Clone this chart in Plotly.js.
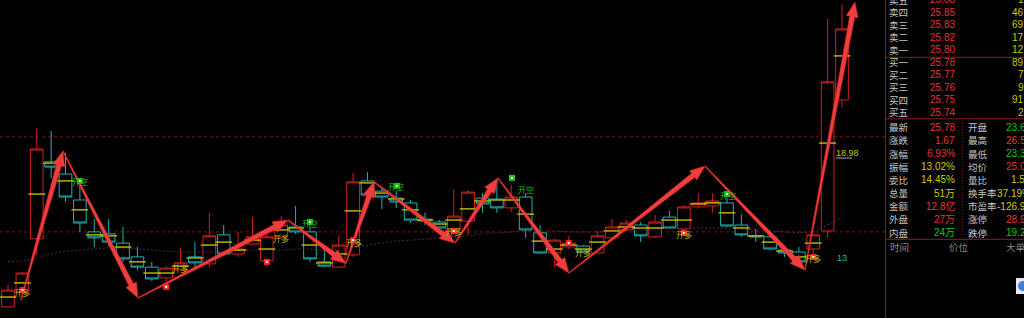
<!DOCTYPE html>
<html><head><meta charset="utf-8">
<script src="https://cdn.plot.ly/plotly-3.0.1.min.js"></script>
<style>html,body{margin:0;padding:0;background:#000;overflow:hidden}#chart{width:1024px;height:318px}</style>
</head><body><div id="chart"></div>
<script>
// ---------- data ----------
const days = [0,1,2,3,4,5,6,7,8,9,10,11,12,13,14,15,16,17,18,19,20,21,22,23,24,25,26,27,28,29,30,31,32,33,34,35,36,37,38,39,40,41,42,43,44,45,46,47,48,49,50,51,52,53,54,55,56,57,58];
const opens  = [17.33,17.78,19.40,21.74,21.37,20.58,19.61,19.55,19.27,18.85,18.54,18.21,18.45,18.85,18.64,19.52,18.94,19.24,18.73,19.46,19.76,19.61,18.70,18.54,18.91,21.16,20.85,20.64,20.49,20.00,19.91,19.67,19.94,20.64,20.61,20.34,20.67,19.58,18.97,19.15,19.18,18.97,19.43,19.67,19.82,19.46,20.06,19.70,20.37,20.40,20.49,19.82,19.49,19.46,19.06,19.00,19.09,19.64,23.62];
const closes = [17.84,18.36,22.13,21.58,20.67,19.88,19.43,19.30,18.79,18.54,18.18,18.51,18.67,18.67,19.49,18.94,19.09,19.46,19.46,19.82,19.61,18.79,18.57,19.21,21.13,20.73,20.67,20.52,19.97,19.94,19.73,20.09,20.82,20.46,20.34,20.67,19.67,18.97,19.36,19.27,19.00,19.49,19.76,19.88,19.49,19.91,19.73,20.37,20.49,20.55,19.79,19.52,19.46,19.09,18.97,18.70,19.52,24.17,25.78];
const highs  = [18.00,18.39,22.77,22.68,22.01,21.13,20.00,20.00,19.76,19.15,18.70,18.57,19.12,19.30,20.19,19.82,19.61,20.06,19.55,20.09,20.40,19.82,19.06,19.49,21.40,21.43,20.98,20.85,20.58,20.19,19.97,20.91,20.88,20.79,21.19,21.04,20.79,19.82,19.40,19.49,19.21,19.64,20.00,19.97,19.91,20.12,20.25,20.43,20.79,20.79,20.64,20.15,19.70,19.52,19.21,19.15,19.55,26.08,26.52];
const lows   = [17.30,17.69,18.91,21.25,20.52,19.61,19.15,19.18,18.70,18.45,18.12,18.00,18.42,18.45,18.51,18.88,18.85,19.21,18.54,19.43,19.55,18.70,18.54,18.51,18.85,20.58,20.31,20.34,19.88,19.82,19.70,19.52,19.52,20.19,20.19,20.22,19.43,18.94,18.54,19.09,18.97,18.94,19.40,19.64,19.30,19.43,19.70,19.67,20.31,20.19,19.76,19.46,19.30,19.06,18.85,18.67,18.76,19.43,23.39];
const avgPrice = [17.63,18.06,20.76,21.70,21.16,20.28,19.52,19.49,19.15,18.70,18.36,18.36,18.57,18.82,19.21,19.30,19.06,19.36,19.09,19.67,19.73,19.21,18.67,18.94,20.25,21.10,20.79,20.61,20.28,19.97,19.85,19.97,20.31,20.55,20.58,20.58,20.15,19.33,19.09,19.21,19.09,19.30,19.64,19.76,19.73,19.73,19.97,19.97,20.46,20.49,20.19,19.73,19.49,19.30,19.03,18.85,19.27,22.31,24.96];
const maLine = [18.70,18.73,18.82,18.94,19.03,19.06,19.09,19.12,19.12,19.09,19.06,19.03,19.00,19.00,19.00,19.03,19.03,19.06,19.06,19.06,19.09,19.09,19.06,19.06,19.15,19.21,19.27,19.33,19.36,19.40,19.43,19.46,19.49,19.55,19.58,19.61,19.64,19.64,19.64,19.61,19.61,19.61,19.64,19.67,19.67,19.67,19.70,19.73,19.73,19.73,19.73,19.70,19.67,19.64,19.61,19.58,19.61,19.82,20.06];
const levels = [22.50, 19.61];

// zigzag turning points (bar position, price)
const zigX = [0.90, 3.82, 9.04, 19.47, 23.50, 25.45, 31.08, 34.07, 39.01, 48.47, 55.42, 58.90];
const zigY = [17.54, 22.07, 17.60, 19.97, 18.65, 21.13, 19.27, 21.25, 18.36, 21.61, 18.45, 26.60];

// signals
const longDotX = [1, 11, 18, 24, 31, 39, 47, 56];
const longDotY = [17.84, 17.94, 18.70, 19.36, 19.64, 19.27, 19.58, 18.85];
const longLblX = [0.94, 11.96, 18.98, 24.03, 31.0, 40.0, 47.0, 56.0];
const longLblY = [17.78, 18.51, 19.40, 19.30, 19.61, 18.97, 19.52, 18.79];
const shortDotX = [5, 21, 27.05, 35.05, 50];
const shortDotY = [21.16, 19.91, 21.01, 21.25, 20.76];
const shortLblX = [5, 21, 27, 36, 50.07];
const shortLblY = [21.13, 19.88, 20.98, 20.91, 20.73];
const longText = '开多', shortText = '开空';
const priceTag = '18.98', countTag = '13';

// quote panel
const askLabels = ['卖五','卖四','卖三','卖二','卖一'];
const askPrices = ['25.88','25.85','25.83','25.82','25.80'];
const askVols   = ['1','46','69','17','12'];
const bidLabels = ['买一','买二','买三','买四','买五'];
const bidPrices = ['25.78','25.77','25.76','25.75','25.74'];
const bidVols   = ['89','7','9','91','2'];
const statLabelsL = ['最新','涨跌','涨幅','振幅','委比','总量','金额','外盘','内盘'];
const statValsL   = ['25.78','1.67','6.93%','13.02%','14.45%','51万','12.8亿','27万','24万'];
const statColsL   = ['r','r','r','y','y','y','r','r','g'];
const statLabelsR = ['开盘','最高','最低','均价','量比','换手率','市盈率','涨停','跌停'];
const statValsR   = ['23.62','26.52','23.39','25.06','1.54','37.19%','-126.97','28.93','19.29'];
const statColsR   = ['g','r','g','r','y','y','y','r','g'];
const tickHeaders = ['时间','价位','大单'];

// ---------- geometry ----------
const W = 1024, H = 318, PW = 885;
const xr = [-0.556, 60.99], yr = [16.993, 26.659];
function toPx(i, p){ return [(i - xr[0])/(xr[1]-xr[0])*PW, H*(1-(p-yr[0])/(yr[1]-yr[0]))]; }
function toData(px, py){ return [xr[0] + px/PW*(xr[1]-xr[0]), yr[0] + (1-py/H)*(yr[1]-yr[0])]; }

const RED='#d42020', CYAN='#1cb4b4', YEL='#b4b400';
const traces = [];

traces.push({type:'scatter', mode:'lines', x:days, y:maLine, line:{color:'#5a1f5a', width:1, dash:'2px,2px'}, hoverinfo:'skip'});

traces.push({type:'candlestick', x:days, open:opens, high:highs, low:lows, close:closes,
  increasing:{line:{color:RED, width:1}, fillcolor:'#000'},
  decreasing:{line:{color:CYAN, width:1}, fillcolor:'#000'},
  whiskerwidth:0, hoverinfo:'skip'});

traces.push({type:'scatter', mode:'markers', x:days, y:avgPrice,
  marker:{symbol:'line-ew', size:12, line:{color:YEL, width:1.5}}, hoverinfo:'skip'});

// arrows
for (let k = 0; k < zigX.length-1; k++){
  const S = toPx(zigX[k], zigY[k]), T = toPx(zigX[k+1], zigY[k+1]);
  const dx = T[0]-S[0], dy = T[1]-S[1], L = Math.hypot(dx,dy);
  const ux = dx/L, uy = dy/L, nx = -uy, ny = ux;
  const hl = 15, hw = 6, bw = 2.6, sw = 0.4;
  const Bx = T[0]-ux*hl, By = T[1]-uy*hl;
  const pts = [
    [S[0]+nx*sw, S[1]+ny*sw],[Bx+nx*bw, By+ny*bw],[Bx+nx*hw, By+ny*hw],[T[0],T[1]],
    [Bx-nx*hw, By-ny*hw],[Bx-nx*bw, By-ny*bw],[S[0]-nx*sw, S[1]-ny*sw],[S[0]+nx*sw, S[1]+ny*sw]];
  const d = pts.map(p => toData(p[0], p[1]));
  traces.push({type:'scatter', mode:'lines', x:d.map(v=>v[0]), y:d.map(v=>v[1]), fill:'toself',
    fillcolor:'rgb(240,62,62)', line:{color:'rgb(205,35,35)', width:0.6}, hoverinfo:'skip'});
}

// signal dots
traces.push({type:'scatter', mode:'markers', x:longDotX, y:longDotY, marker:{symbol:'square', size:6, color:'#ff2828'}, hoverinfo:'skip'});
traces.push({type:'scatter', mode:'markers', x:longDotX, y:longDotY, marker:{symbol:'square', size:2, color:'#ffffff'}, hoverinfo:'skip'});
traces.push({type:'scatter', mode:'markers', x:shortDotX, y:shortDotY, marker:{symbol:'square', size:6, color:'#20c020'}, hoverinfo:'skip'});
traces.push({type:'scatter', mode:'markers', x:shortDotX, y:shortDotY, marker:{symbol:'square', size:2, color:'#ffffff'}, hoverinfo:'skip'});

const ann = [];
const CJK = 'Noto Sans CJK SC';
longLblX.forEach((x,i)=>ann.push({xref:'x', yref:'y', x:x, y:longLblY[i], text:longText, showarrow:false,
  font:{family:CJK, size:8, color:'#c8b400'}, xanchor:'center', yanchor:'middle'}));
shortLblX.forEach((x,i)=>ann.push({xref:'x', yref:'y', x:x, y:shortLblY[i], text:shortText, showarrow:false,
  font:{family:CJK, size:8, color:'#10c010'}, xanchor:'center', yanchor:'middle'}));
ann.push({xref:'x', yref:'y', x:57.45, y:22.01, text:priceTag, showarrow:false, xanchor:'left', yanchor:'middle',
  font:{family:'Liberation Sans', size:9, color:'#c8c800'}});
ann.push({xref:'x', yref:'y', x:57.5, y:18.82, text:countTag, showarrow:false, xanchor:'left', yanchor:'middle',
  font:{family:'Liberation Sans', size:9, color:CYAN}});

// panel text
const NUMF = 'Liberation Sans, Noto Sans CJK SC';
const colMap = {r:'#e83434', g:'#00cc00', y:'#cccc00'};
function pa(px, py, text, color, anchor, size, fam){
  ann.push({xref:'paper', yref:'paper', x:px/W, y:1-py/H, text:text, showarrow:false, xanchor:anchor, yanchor:'middle',
    font:{family:fam||NUMF, size:size||10, color:color}});
}
const LBL = '#c4c4c4';
askLabels.forEach((t,i)=>{ const y = -0.2 + 12.5*i;
  pa(887, y, t, LBL, 'left', 9.5, CJK); pa(956.5, y, askPrices[i], '#e03434', 'right'); pa(1026, y, askVols[i], '#c8c800', 'right'); });
bidLabels.forEach((t,i)=>{ const y = 62.3 + 12.5*i;
  pa(887, y, t, LBL, 'left', 9.5, CJK); pa(956.5, y, bidPrices[i], '#e03434', 'right'); pa(1026, y, bidVols[i], '#c8c800', 'right'); });
statLabelsL.forEach((t,i)=>{ const y = 127.3 + 13.15*i;
  pa(887, y, t, LBL, 'left', 9.5, CJK); pa(956.5, y, statValsL[i], colMap[statColsL[i]], 'right');
  pa(966, y, statLabelsR[i], LBL, 'left', 9.5, CJK); pa(1033, y, statValsR[i], colMap[statColsR[i]], 'right'); });
pa(888, 247, tickHeaders[0], '#8a8a8a', 'left', 9.5, CJK);
pa(947, 247, tickHeaders[1], '#8a8a8a', 'left', 9.5, CJK);
pa(1004, 247, tickHeaders[2], '#8a8a8a', 'left', 9.5, CJK);

const DR = '#8c1c1c';
const shapes = [];
levels.forEach(v=>shapes.push({type:'line', xref:'paper', yref:'y', x0:0, x1:PW/W, y0:v, y1:v, line:{color:'#8a0f0f', width:1, dash:'3px,3px'}, layer:'below'}));
shapes.push({type:'line', xref:'paper', yref:'paper', x0:885.5/W, x1:885.5/W, y0:0, y1:1, line:{color:DR, width:1}});
[57.3, 118.8, 239.3].forEach(py=>shapes.push({type:'line', xref:'paper', yref:'paper', x0:885/W, x1:1, y0:1-py/H, y1:1-py/H, line:{color:DR, width:1}}));
shapes.push({type:'line', xref:'paper', yref:'paper', x0:962.5/W, x1:962.5/W, y0:1-120/H, y1:1-239/H, line:{color:'#7a1414', width:1, dash:'1px,2px'}});
shapes.push({type:'line', xref:'paper', yref:'paper', x0:836/W, x1:852/W, y0:1-158/H, y1:1-158/H, line:{color:'#a8a8a8', width:1}});
shapes.push({type:'rect', xref:'paper', yref:'paper', x0:1016/W, x1:1030/W, y0:1-294/H, y1:1-278/H, fillcolor:'#e6e8f0', line:{width:0}});
shapes.push({type:'circle', xref:'paper', yref:'paper', x0:1018/W, x1:1028/W, y0:1-291/H, y1:1-281/H, fillcolor:'#3d7ee0', line:{width:0}});

const layout = {
  width:W, height:H, margin:{l:0,r:0,t:0,b:0,pad:0},
  paper_bgcolor:'#000', plot_bgcolor:'#000', showlegend:false,
  boxgap:0.12, boxgroupgap:0,
  xaxis:{domain:[0, PW/W], range:xr, visible:false, rangeslider:{visible:false}, fixedrange:true},
  yaxis:{domain:[0,1], range:yr, visible:false, fixedrange:true},
  annotations:ann, shapes:shapes, hovermode:false
};
Plotly.newPlot('chart', traces, layout, {staticPlot:true, displayModeBar:false});
</script></body></html>
